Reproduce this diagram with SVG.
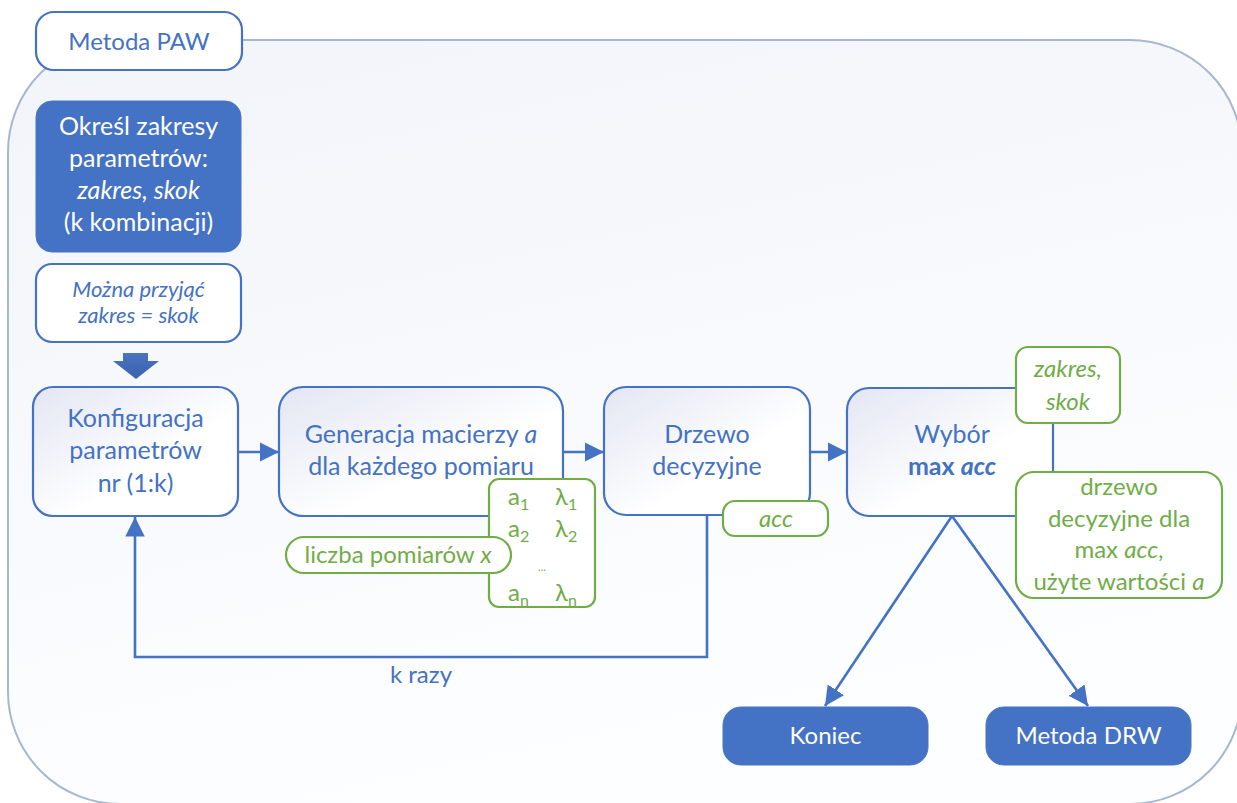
<svg xmlns="http://www.w3.org/2000/svg" width="1237" height="803" viewBox="0 0 1237 803">
  <defs>
    <linearGradient id="bgFill" x1="0" y1="0" x2="0.35" y2="1">
      <stop offset="0" stop-color="#f1f4f9"/>
      <stop offset="1" stop-color="#fdfeff"/>
    </linearGradient>
    <linearGradient id="boxFill" x1="0" y1="0" x2="1" y2="1">
      <stop offset="0" stop-color="#e3e6f3"/>
      <stop offset="0.6" stop-color="#ffffff"/>
    </linearGradient>
    <linearGradient id="blockArrow" x1="0" y1="0" x2="0" y2="1">
      <stop offset="0" stop-color="#4a74c0"/>
      <stop offset="1" stop-color="#3a62ad"/>
    </linearGradient>
    <marker id="head" viewBox="0 0 10 10" refX="10" refY="5" markerWidth="7.5" markerHeight="7.5" markerUnits="strokeWidth" orient="auto">
      <path d="M0,0 L10,5 L0,10 z" fill="#4472c4"/>
    </marker>
    <style>
      text { font-family: Lato, "Open Sans", "Liberation Sans", sans-serif; text-anchor: middle; }
      .blue { fill: #4472c4; }
      .white { fill: #ffffff; }
      .green { fill: #70ad47; }
      .t25 { font-size: 25px; }
      .t24 { font-size: 24px; }
      .t22 { font-size: 22px; }
      .it { font-style: italic; }
      .b { font-weight: bold; }
      .solid { fill: #4472c4; stroke: #4a75c4; stroke-width: 1; }
      .step { fill: url(#boxFill); stroke: #4472c4; stroke-width: 2.2; }
      .plain { fill: #ffffff; stroke: #4472c4; stroke-width: 2.2; }
      .note { fill: #ffffff; stroke: #70ad47; stroke-width: 2.2; }
      .link { fill: none; stroke: #4472c4; stroke-width: 2.6; }
      .cell { text-anchor: start; font-size: 24px; }
      .sub { font-size: 16px; }
    </style>
  </defs>

  <!-- outer frame of the method -->
  <g id="frame">
    <rect x="8" y="40" width="1234" height="764" rx="112" ry="112" fill="url(#bgFill)" stroke="#a7b7d2" stroke-width="2"/>
  </g>

  <g id="title">
    <rect x="36" y="12" width="206" height="58" rx="18" class="plain"/>
    <text x="139" y="50" class="blue t24">Metoda PAW</text>
  </g>

  <g id="ranges">
    <rect x="36" y="101" width="205" height="151" rx="16" class="solid"/>
    <text x="138.5" y="135" class="white t25">Określ zakresy</text>
    <text x="138.5" y="167" class="white t25">parametrów:</text>
    <text x="138.5" y="199" class="white t25 it">zakres, skok</text>
    <text x="138.5" y="231" class="white t25">(k kombinacji)</text>
  </g>

  <g id="hint">
    <rect x="36" y="264" width="205" height="78" rx="16" class="plain"/>
    <text x="138.5" y="297" class="blue t22 it">Można przyjąć</text>
    <text x="138.5" y="323" class="blue t22 it">zakres = skok</text>
  </g>

  <g id="down-arrow">
    <polygon points="123,353 148,353 148,361 159,361 136,379 113,361 123,361" fill="url(#blockArrow)"/>
  </g>

  <g id="config">
    <rect x="33" y="387" width="205" height="129" rx="20" class="step"/>
    <text x="135.5" y="427" class="blue t25">Konfiguracja</text>
    <text x="135.5" y="459" class="blue t25">parametrów</text>
    <text x="135.5" y="492" class="blue t25">nr (1:k)</text>
  </g>

  <g id="generate">
    <rect x="279" y="387" width="284" height="129" rx="24" class="step"/>
    <text x="421" y="443" class="blue t25">Generacja macierzy <tspan class="it">a</tspan></text>
    <text x="421" y="475" class="blue t25">dla każdego pomiaru</text>
  </g>

  <g id="matrix">
    <rect x="489" y="479" width="106" height="128" rx="10" class="note"/>
    <g class="green">
      <text x="508" y="505" class="cell">a<tspan class="sub" dy="5">1</tspan></text>
      <text x="555" y="505" class="cell">λ<tspan class="sub" dy="5">1</tspan></text>
      <text x="508" y="537" class="cell">a<tspan class="sub" dy="5">2</tspan></text>
      <text x="555" y="537" class="cell">λ<tspan class="sub" dy="5">2</tspan></text>
      <text x="542" y="571" style="font-size:11px">...</text>
      <text x="508" y="601" class="cell">a<tspan class="sub" dy="5">n</tspan></text>
      <text x="555" y="601" class="cell">λ<tspan class="sub" dy="5">n</tspan></text>
    </g>
  </g>

  <g id="count">
    <rect x="286" y="537" width="225" height="36" rx="18" class="note"/>
    <text x="398" y="563" class="green t24">liczba pomiarów <tspan class="it">x</tspan></text>
  </g>

  <g id="tree">
    <rect x="604" y="387" width="206" height="128" rx="22" class="step"/>
    <text x="707" y="443" class="blue t25">Drzewo</text>
    <text x="707" y="475" class="blue t25">decyzyjne</text>
  </g>

  <g id="acc">
    <rect x="723" y="501" width="105" height="35" rx="12" class="note"/>
    <text x="776" y="527" class="green t24 it">acc</text>
  </g>

  <g id="choose">
    <rect x="847" y="388" width="206" height="128" rx="22" class="step"/>
    <text x="952" y="443" class="blue t25">Wybór</text>
    <text x="952" y="475" class="blue t25 b">max <tspan class="it">acc</tspan></text>
  </g>

  <g id="params-out">
    <rect x="1016" y="347" width="104" height="76" rx="12" class="note"/>
    <text x="1068" y="377" class="green t24 it">zakres,</text>
    <text x="1068" y="410" class="green t24 it">skok</text>
  </g>

  <g id="tree-out">
    <rect x="1016" y="472" width="206" height="126" rx="18" class="note"/>
    <text x="1119" y="495" class="green t24">drzewo</text>
    <text x="1119" y="527" class="green t24">decyzyjne dla</text>
    <text x="1119" y="558" class="green t24">max <tspan class="it">acc</tspan>,</text>
    <text x="1119" y="590" class="green t24">użyte wartości <tspan class="it">a</tspan></text>
  </g>

  <g id="end">
    <rect x="723" y="707" width="205" height="58" rx="18" class="solid"/>
    <text x="825.5" y="744" class="white t24">Koniec</text>
  </g>

  <g id="drw">
    <rect x="986" y="707" width="205" height="58" rx="18" class="solid"/>
    <text x="1088.5" y="744" class="white t24">Metoda DRW</text>
  </g>

  <g id="connectors">
    <line x1="238" y1="452" x2="279" y2="452" class="link" marker-end="url(#head)"/>
    <line x1="563" y1="452" x2="604" y2="452" class="link" marker-end="url(#head)"/>
    <line x1="810" y1="452" x2="847" y2="452" class="link" marker-end="url(#head)"/>
    <path d="M707,515 V657 H135 V517" class="link" marker-end="url(#head)"/>
    <line x1="952" y1="516" x2="825" y2="706" class="link" marker-end="url(#head)"/>
    <line x1="952" y1="516" x2="1088" y2="706" class="link" marker-end="url(#head)"/>
    <text x="421" y="683" class="blue t24">k razy</text>
  </g>
</svg>
